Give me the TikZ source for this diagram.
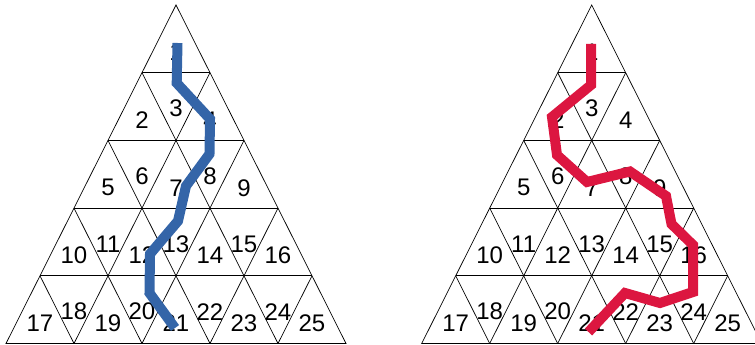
\documentclass[tikz,border=0pt]{standalone}
\usepackage{fontspec}
\setmainfont{Liberation Sans}
\definecolor{pathblue}{RGB}{52,101,168}
\definecolor{pathred}{RGB}{220,22,64}
\tikzset{
  pyrline/.style={draw, line width=0.7pt},
  cell/.style={inner sep=0pt, font=\fontsize{24}{28}\selectfont},
  bluepath/.style={draw=pathblue, line width=10pt},
  redpath/.style={draw=pathred, line width=10pt},
}
% one pyramid of 25 cells: #1 name prefix, #2 apex x
\newcommand{\pyramid}[2]{%
  \draw[pyrline] (#2,5) -- ({#2-170},343.5) -- ({#2+170},343.5) -- cycle;
  \foreach \i in {1,...,4} {
    \draw[pyrline] ({#2-\i*34},{5+\i*67.7}) -- ({#2+\i*34},{5+\i*67.7});
    \draw[pyrline] ({#2+\i*34},{5+\i*67.7}) -- ({#2+2*\i*34-170},343.5);
    \draw[pyrline] ({#2-\i*34},{5+\i*67.7}) -- ({#2+170-2*\i*34},343.5);
  }
  \foreach \r in {1,...,5} {
    \pgfmathtruncatemacro{\kmax}{2*\r-2}
    \foreach \k in {0,...,\kmax} {
      \pgfmathtruncatemacro{\num}{(\r-1)*(\r-1)+\k+1}
      \pgfmathsetmacro{\yoff}{mod(\k,2)==1 ? 0.53 : 0.70}
      \node[cell] (#1\num) at ({#2+(\k-\r+1)*34},{5+(\r-1+\yoff)*67.7}) {\num};
    }
  }
}

\begin{document}
\begin{tikzpicture}[x=1pt, y=-1pt]
    \clip (0,0) rectangle (755,345);
    \pyramid{L}{176}
    \pyramid{R}{591.7}
    \draw[bluepath] (177.5,43) -- (176.7,83) -- (210,119) -- (209.5,154) -- (186,186) -- (178,221)
      -- (150,254) -- (149.5,293) -- (175,328);
    \draw[redpath] (591,44) -- (591,85) -- (552,117) -- (557,155) -- (587,182) -- (630,171.5)
      -- (666,196) -- (671.5,224) -- (693,245) -- (693,292) -- (660,303) -- (625,293) -- (588.5,332);
  \end{tikzpicture}
\end{document}
